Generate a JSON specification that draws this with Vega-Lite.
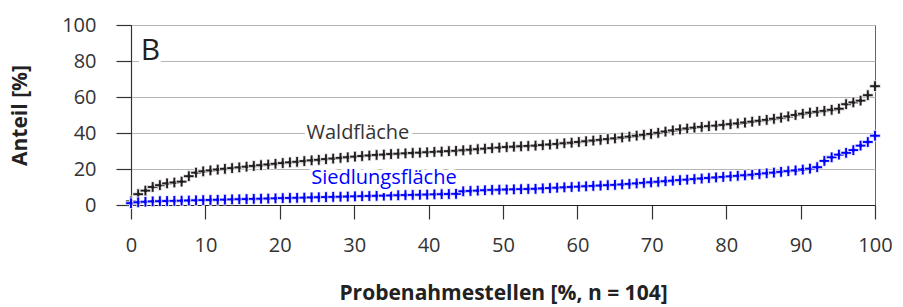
{
  "$schema": "https://vega.github.io/schema/vega-lite/v6.json",
  "autosize": {"type": "none"},
  "width": 744,
  "height": 180,
  "padding": {"left": 131, "top": 25, "right": 28, "bottom": 102},
  "background": "white",
  "config": {
    "font": "Open Sans",
    "view": {"stroke": "#666666", "strokeWidth": 1},
    "axis": {
      "labelFont": "Open Sans", "labelFontSize": 20, "labelColor": "#333333",
      "titleFont": "Open Sans", "titleFontSize": 21, "titleFontWeight": "bold", "titleColor": "#222222",
      "tickColor": "#333333", "domainColor": "#222222", "gridColor": "#b5b5b5", "tickWidth": 1.2, "domainWidth": 1.2
    }
  },
  "datasets": {
    "pts": [
      {"p":0,"s":"Waldfläche","v":2},{"p":0.97,"s":"Waldfläche","v":6},{"p":1.94,"s":"Waldfläche","v":8},{"p":2.91,"s":"Waldfläche","v":10},{"p":3.88,"s":"Waldfläche","v":11},{"p":4.85,"s":"Waldfläche","v":12},{"p":5.83,"s":"Waldfläche","v":12.5},{"p":6.8,"s":"Waldfläche","v":13},{"p":7.77,"s":"Waldfläche","v":16},{"p":8.74,"s":"Waldfläche","v":18},
      {"p":9.71,"s":"Waldfläche","v":18.7},{"p":10.68,"s":"Waldfläche","v":19.2},{"p":11.65,"s":"Waldfläche","v":19.7},{"p":12.62,"s":"Waldfläche","v":20.1},{"p":13.59,"s":"Waldfläche","v":20.5},{"p":14.56,"s":"Waldfläche","v":20.9},{"p":15.53,"s":"Waldfläche","v":21.3},{"p":16.5,"s":"Waldfläche","v":21.7},{"p":17.48,"s":"Waldfläche","v":22.1},{"p":18.45,"s":"Waldfläche","v":22.5},
      {"p":19.42,"s":"Waldfläche","v":22.9},{"p":20.39,"s":"Waldfläche","v":23.3},{"p":21.36,"s":"Waldfläche","v":23.7},{"p":22.33,"s":"Waldfläche","v":24},{"p":23.3,"s":"Waldfläche","v":24.4},{"p":24.27,"s":"Waldfläche","v":24.8},{"p":25.24,"s":"Waldfläche","v":25.1},{"p":26.21,"s":"Waldfläche","v":25.5},{"p":27.18,"s":"Waldfläche","v":25.8},{"p":28.16,"s":"Waldfläche","v":26.2},
      {"p":29.13,"s":"Waldfläche","v":26.5},{"p":30.1,"s":"Waldfläche","v":26.9},{"p":31.07,"s":"Waldfläche","v":27.2},{"p":32.04,"s":"Waldfläche","v":27.5},{"p":33.01,"s":"Waldfläche","v":27.8},{"p":33.98,"s":"Waldfläche","v":28},{"p":34.95,"s":"Waldfläche","v":28.3},{"p":35.92,"s":"Waldfläche","v":28.5},{"p":36.89,"s":"Waldfläche","v":28.7},{"p":37.86,"s":"Waldfläche","v":28.9},
      {"p":38.83,"s":"Waldfläche","v":29.1},{"p":39.81,"s":"Waldfläche","v":29.3},{"p":40.78,"s":"Waldfläche","v":29.5},{"p":41.75,"s":"Waldfläche","v":29.7},{"p":42.72,"s":"Waldfläche","v":29.9},{"p":43.69,"s":"Waldfläche","v":30.1},{"p":44.66,"s":"Waldfläche","v":30.4},{"p":45.63,"s":"Waldfläche","v":30.7},{"p":46.6,"s":"Waldfläche","v":31},{"p":47.57,"s":"Waldfläche","v":31.3},
      {"p":48.54,"s":"Waldfläche","v":31.6},{"p":49.51,"s":"Waldfläche","v":31.9},{"p":50.49,"s":"Waldfläche","v":32.2},{"p":51.46,"s":"Waldfläche","v":32.4},{"p":52.43,"s":"Waldfläche","v":32.6},{"p":53.4,"s":"Waldfläche","v":32.8},{"p":54.37,"s":"Waldfläche","v":33},{"p":55.34,"s":"Waldfläche","v":33.3},{"p":56.31,"s":"Waldfläche","v":33.6},{"p":57.28,"s":"Waldfläche","v":33.9},
      {"p":58.25,"s":"Waldfläche","v":34.3},{"p":59.22,"s":"Waldfläche","v":34.6},{"p":60.19,"s":"Waldfläche","v":35},{"p":61.17,"s":"Waldfläche","v":35.4},{"p":62.14,"s":"Waldfläche","v":35.8},{"p":63.11,"s":"Waldfläche","v":36.2},{"p":64.08,"s":"Waldfläche","v":36.6},{"p":65.05,"s":"Waldfläche","v":37},{"p":66.02,"s":"Waldfläche","v":37.5},{"p":66.99,"s":"Waldfläche","v":38},
      {"p":67.96,"s":"Waldfläche","v":38.5},{"p":68.93,"s":"Waldfläche","v":39},{"p":69.9,"s":"Waldfläche","v":39.5},{"p":70.87,"s":"Waldfläche","v":40.1},{"p":71.84,"s":"Waldfläche","v":40.8},{"p":72.82,"s":"Waldfläche","v":41.4},{"p":73.79,"s":"Waldfläche","v":42},{"p":74.76,"s":"Waldfläche","v":42.5},{"p":75.73,"s":"Waldfläche","v":43},{"p":76.7,"s":"Waldfläche","v":43.4},
      {"p":77.67,"s":"Waldfläche","v":43.8},{"p":78.64,"s":"Waldfläche","v":44.1},{"p":79.61,"s":"Waldfläche","v":44.5},{"p":80.58,"s":"Waldfläche","v":44.9},{"p":81.55,"s":"Waldfläche","v":45.3},{"p":82.52,"s":"Waldfläche","v":45.8},{"p":83.5,"s":"Waldfläche","v":46.3},{"p":84.47,"s":"Waldfläche","v":46.8},{"p":85.44,"s":"Waldfläche","v":47.3},{"p":86.41,"s":"Waldfläche","v":47.9},
      {"p":87.38,"s":"Waldfläche","v":48.5},{"p":88.35,"s":"Waldfläche","v":49.2},{"p":89.32,"s":"Waldfläche","v":50},{"p":90.29,"s":"Waldfläche","v":50.7},{"p":91.26,"s":"Waldfläche","v":51.3},{"p":92.23,"s":"Waldfläche","v":51.8},{"p":93.2,"s":"Waldfläche","v":52.3},{"p":94.17,"s":"Waldfläche","v":52.9},{"p":95.15,"s":"Waldfläche","v":53.5},{"p":96.12,"s":"Waldfläche","v":56},
      {"p":97.09,"s":"Waldfläche","v":57},{"p":98.06,"s":"Waldfläche","v":58},{"p":99.03,"s":"Waldfläche","v":61},{"p":100,"s":"Waldfläche","v":66},
      {"p":0,"s":"Siedlungsfläche","v":1},{"p":0.97,"s":"Siedlungsfläche","v":1.5},{"p":1.94,"s":"Siedlungsfläche","v":1.8},{"p":2.91,"s":"Siedlungsfläche","v":2},{"p":3.88,"s":"Siedlungsfläche","v":2.1},{"p":4.85,"s":"Siedlungsfläche","v":2.2},{"p":5.83,"s":"Siedlungsfläche","v":2.3},{"p":6.8,"s":"Siedlungsfläche","v":2.4},{"p":7.77,"s":"Siedlungsfläche","v":2.5},{"p":8.74,"s":"Siedlungsfläche","v":2.6},
      {"p":9.71,"s":"Siedlungsfläche","v":2.7},{"p":10.68,"s":"Siedlungsfläche","v":2.8},{"p":11.65,"s":"Siedlungsfläche","v":2.9},{"p":12.62,"s":"Siedlungsfläche","v":3},{"p":13.59,"s":"Siedlungsfläche","v":3.1},{"p":14.56,"s":"Siedlungsfläche","v":3.2},{"p":15.53,"s":"Siedlungsfläche","v":3.3},{"p":16.5,"s":"Siedlungsfläche","v":3.4},{"p":17.48,"s":"Siedlungsfläche","v":3.5},{"p":18.45,"s":"Siedlungsfläche","v":3.6},
      {"p":19.42,"s":"Siedlungsfläche","v":3.7},{"p":20.39,"s":"Siedlungsfläche","v":3.8},{"p":21.36,"s":"Siedlungsfläche","v":3.9},{"p":22.33,"s":"Siedlungsfläche","v":4},{"p":23.3,"s":"Siedlungsfläche","v":4.1},{"p":24.27,"s":"Siedlungsfläche","v":4.2},{"p":25.24,"s":"Siedlungsfläche","v":4.3},{"p":26.21,"s":"Siedlungsfläche","v":4.4},{"p":27.18,"s":"Siedlungsfläche","v":4.5},{"p":28.16,"s":"Siedlungsfläche","v":4.6},
      {"p":29.13,"s":"Siedlungsfläche","v":4.7},{"p":30.1,"s":"Siedlungsfläche","v":4.8},{"p":31.07,"s":"Siedlungsfläche","v":4.9},{"p":32.04,"s":"Siedlungsfläche","v":5},{"p":33.01,"s":"Siedlungsfläche","v":5.1},{"p":33.98,"s":"Siedlungsfläche","v":5.2},{"p":34.95,"s":"Siedlungsfläche","v":5.3},{"p":35.92,"s":"Siedlungsfläche","v":5.4},{"p":36.89,"s":"Siedlungsfläche","v":5.5},{"p":37.86,"s":"Siedlungsfläche","v":5.6},
      {"p":38.83,"s":"Siedlungsfläche","v":5.7},{"p":39.81,"s":"Siedlungsfläche","v":5.8},{"p":40.78,"s":"Siedlungsfläche","v":5.9},{"p":41.75,"s":"Siedlungsfläche","v":6},{"p":42.72,"s":"Siedlungsfläche","v":6.1},{"p":43.69,"s":"Siedlungsfläche","v":6.2},{"p":44.66,"s":"Siedlungsfläche","v":7.6},{"p":45.63,"s":"Siedlungsfläche","v":7.8},{"p":46.6,"s":"Siedlungsfläche","v":8},{"p":47.57,"s":"Siedlungsfläche","v":8.2},
      {"p":48.54,"s":"Siedlungsfläche","v":8.4},{"p":49.51,"s":"Siedlungsfläche","v":8.5},{"p":50.49,"s":"Siedlungsfläche","v":8.6},{"p":51.46,"s":"Siedlungsfläche","v":8.7},{"p":52.43,"s":"Siedlungsfläche","v":8.8},{"p":53.4,"s":"Siedlungsfläche","v":8.9},{"p":54.37,"s":"Siedlungsfläche","v":9},{"p":55.34,"s":"Siedlungsfläche","v":9.2},{"p":56.31,"s":"Siedlungsfläche","v":9.4},{"p":57.28,"s":"Siedlungsfläche","v":9.6},
      {"p":58.25,"s":"Siedlungsfläche","v":9.8},{"p":59.22,"s":"Siedlungsfläche","v":10},{"p":60.19,"s":"Siedlungsfläche","v":10.2},{"p":61.17,"s":"Siedlungsfläche","v":10.4},{"p":62.14,"s":"Siedlungsfläche","v":10.6},{"p":63.11,"s":"Siedlungsfläche","v":10.8},{"p":64.08,"s":"Siedlungsfläche","v":11},{"p":65.05,"s":"Siedlungsfläche","v":11.2},{"p":66.02,"s":"Siedlungsfläche","v":11.4},{"p":66.99,"s":"Siedlungsfläche","v":11.7},
      {"p":67.96,"s":"Siedlungsfläche","v":12},{"p":68.93,"s":"Siedlungsfläche","v":12.3},{"p":69.9,"s":"Siedlungsfläche","v":12.6},{"p":70.87,"s":"Siedlungsfläche","v":12.9},{"p":71.84,"s":"Siedlungsfläche","v":13.2},{"p":72.82,"s":"Siedlungsfläche","v":13.5},{"p":73.79,"s":"Siedlungsfläche","v":13.8},{"p":74.76,"s":"Siedlungsfläche","v":14.1},{"p":75.73,"s":"Siedlungsfläche","v":14.4},{"p":76.7,"s":"Siedlungsfläche","v":14.7},
      {"p":77.67,"s":"Siedlungsfläche","v":15},{"p":78.64,"s":"Siedlungsfläche","v":15.3},{"p":79.61,"s":"Siedlungsfläche","v":15.6},{"p":80.58,"s":"Siedlungsfläche","v":15.9},{"p":81.55,"s":"Siedlungsfläche","v":16.2},{"p":82.52,"s":"Siedlungsfläche","v":16.5},{"p":83.5,"s":"Siedlungsfläche","v":16.8},{"p":84.47,"s":"Siedlungsfläche","v":17.2},{"p":85.44,"s":"Siedlungsfläche","v":17.6},{"p":86.41,"s":"Siedlungsfläche","v":18},
      {"p":87.38,"s":"Siedlungsfläche","v":18.4},{"p":88.35,"s":"Siedlungsfläche","v":18.8},{"p":89.32,"s":"Siedlungsfläche","v":19.2},{"p":90.29,"s":"Siedlungsfläche","v":19.7},{"p":91.26,"s":"Siedlungsfläche","v":20.2},{"p":92.23,"s":"Siedlungsfläche","v":21},{"p":93.2,"s":"Siedlungsfläche","v":24.5},{"p":94.17,"s":"Siedlungsfläche","v":26.5},{"p":95.15,"s":"Siedlungsfläche","v":28},{"p":96.12,"s":"Siedlungsfläche","v":29},
      {"p":97.09,"s":"Siedlungsfläche","v":30.5},{"p":98.06,"s":"Siedlungsfläche","v":33},{"p":99.03,"s":"Siedlungsfläche","v":35},{"p":100,"s":"Siedlungsfläche","v":38.5}
    ],
    "labels": [
      {"t":"B","p":2.6,"v":80.5},
      {"t":"Waldfläche","p":30.5,"v":36.5},
      {"t":"Siedlungsfläche","p":34,"v":11.7}
    ]
  },
  "encoding": {
    "x": {"field":"p","type":"quantitative","scale":{"domain":[0,100],"nice":false},
      "axis":{"title":"Probenahmestellen [%, n = 104]","values":[0,10,20,30,40,50,60,70,80,90,100],"grid":false,"tickSize":14,"labelPadding":16,"titlePadding":27,"labelFlush":false}},
    "y": {"field":"v","type":"quantitative","scale":{"domain":[0,100],"nice":false},
      "axis":{"title":"Anteil [%]","values":[0,20,40,60,80,100],"grid":true,"tickSize":15,"labelPadding":20,"titlePadding":31,"domainColor":"#333333","labelFlush":false}}
  },
  "layer": [
    {
      "data": {"name":"pts"},
      "mark": {"type":"point","filled":true,"shape":"M-1,-0.27H-0.27V-1H0.27V-0.27H1V0.27H0.27V1H-0.27V0.27H-1Z","size":115,"stroke":"white","strokeWidth":0.8,"opacity":1},
      "encoding": {
        "fill": {"field":"s","type":"nominal","scale":{"domain":["Waldfläche","Siedlungsfläche"],"range":["#231f20","#0000ff"]},"legend":null}
      }
    },
    {
      "data": {"name":"labels"},
      "transform": [{"filter":"datum.t == 'B'"}],
      "mark": {"type":"text","fontSize":30,"font":"Open Sans","align":"center","baseline":"alphabetic","stroke":"white","strokeWidth":10,"strokeJoin":"round","fill":"white"},
      "encoding": {"text":{"field":"t"}}
    },
    {
      "data": {"name":"labels"},
      "transform": [{"filter":"datum.t != 'B'"}],
      "mark": {"type":"text","fontSize":20,"font":"Open Sans","align":"center","baseline":"alphabetic","stroke":"white","strokeWidth":8,"strokeJoin":"round","fill":"white"},
      "encoding": {"text":{"field":"t"}}
    },
    {
      "data": {"name":"labels"},
      "transform": [{"filter":"datum.t == 'B'"}],
      "mark": {"type":"text","fontSize":30,"font":"Open Sans","align":"center","baseline":"alphabetic","color":"#231f20"},
      "encoding": {"text":{"field":"t"}}
    },
    {
      "data": {"name":"labels"},
      "transform": [{"filter":"datum.t != 'B'"}],
      "mark": {"type":"text","fontSize":20,"font":"Open Sans","align":"center","baseline":"alphabetic"},
      "encoding": {
        "text":{"field":"t"},
        "color":{"field":"t","type":"nominal","scale":{"domain":["Waldfläche","Siedlungsfläche"],"range":["#333333","#0000ff"]},"legend":null}
      }
    }
  ]
}
